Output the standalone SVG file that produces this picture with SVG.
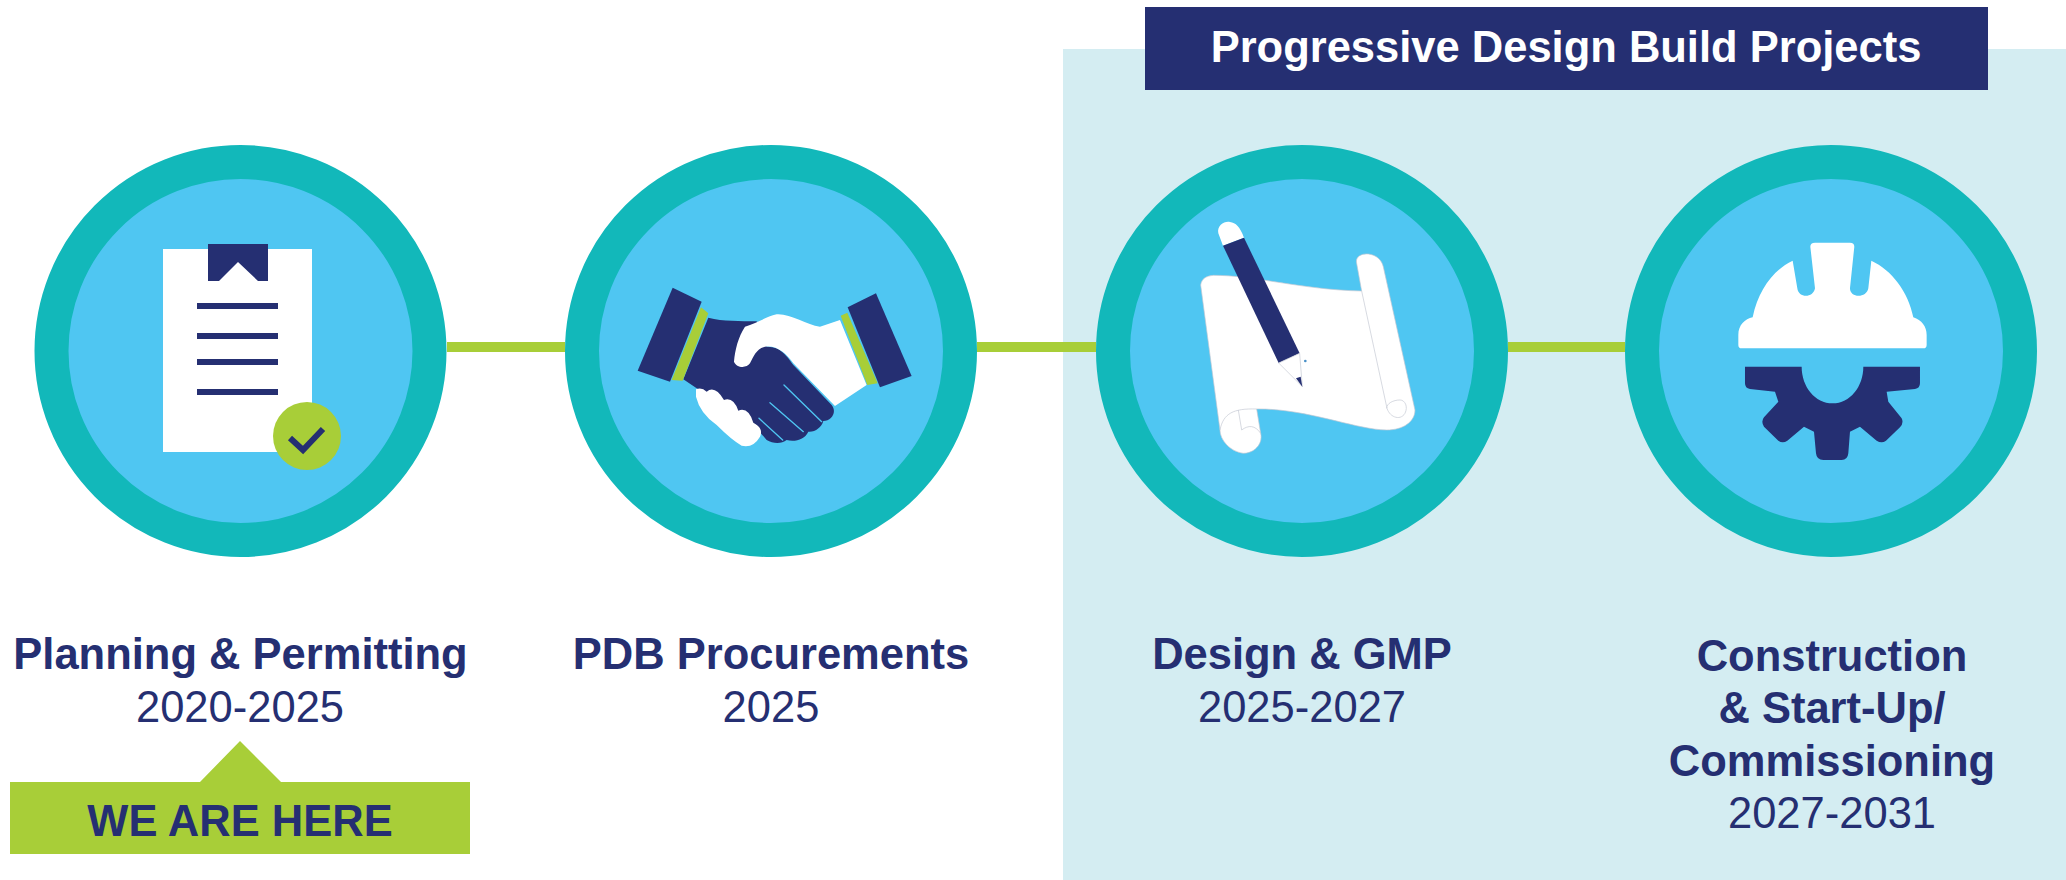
<svg xmlns="http://www.w3.org/2000/svg" width="2066" height="880" viewBox="0 0 2066 880">
<style>
.ring{fill:#4fc6f2;stroke:#12b8ba;stroke-width:34}
.n{fill:#252f72}.w{fill:#fff}.g{fill:#a8ce38}
.t{font-family:"Liberation Sans",Arial,sans-serif;fill:#252f72;text-anchor:middle;font-size:43.500px}
.b{font-weight:700}
.o{stroke:#c2c7d2;stroke-width:2}
.thin{fill:none;stroke:#c2c7d2;stroke-width:2}
.ln{fill:none;stroke:#252f72;stroke-width:6}
.f{fill:none;stroke:#4fc6f2;stroke-width:4;stroke-linecap:round}
</style>
<rect id="panel" x="1063" y="49" width="1003" height="831" fill="#d4edf2"/>
<g id="connectors" stroke="#a8ce38" stroke-width="10" fill="none">
<path d="M447 347H565"/><path d="M977 347H1096"/><path d="M1508 347H1625"/>
</g>
<g id="header"><rect x="1145" y="7" width="843" height="83" class="n"/>
<text x="1566" y="62" class="t b" style="fill:#fff">Progressive Design Build Projects</text></g>
<g id="node-planning">
<circle cx="240.500" cy="351" r="189" class="ring"/>
<rect x="163" y="249" width="149" height="203" class="w"/>
<path class="n" d="M208 244H268V281H258L238 262L219 281H208Z"/>
<path class="ln" d="M197 306H278M197 336H278M197 362H278M197 392H278"/>
<circle cx="307" cy="436" r="34" class="g"/>
<path d="M290 438L303 450L323 429" fill="none" stroke="#252f72" stroke-width="6"/>
<text x="240.500" y="669" class="t b">Planning &amp; Permitting</text>
<text x="240" y="722" class="t">2020-2025</text>
</g>
<g id="we-are-here">
<path class="g" d="M10 782H200L240 741L281 782H470V854H10Z"/>
<text x="240" y="836" class="t b">WE ARE HERE</text>
</g>
<g id="node-procurement">
<circle cx="771" cy="351" r="189" class="ring"/>
<g transform="translate(560 250) scale(.3333)">
<path class="n" d="M445 203C490 215 540 212 590 214L620 290C650 290 670 300 700 345L815 465C832 485 815 512 790 513C785 532 765 547 745 545C735 568 705 577 680 570C665 582 640 582 620 570L560 500L410 415L370 388Z"/>
<path class="w" d="M840 210L780 230C740 225 690 190 650 193C620 200 600 215 555 230C535 260 525 300 522 335C530 355 560 355 570 340C580 320 590 295 615 290C650 285 680 310 700 340L825 468L920 405Z"/>
<path class="w" d="M408 418Q425 410 440 425Q465 405 492 450Q520 440 535 482Q565 470 580 518Q612 535 600 560Q580 595 545 587Q515 570 470 525Q420 490 408 440Z"/>
<path class="n" d="M338 113L425 155L330 395L233 362Z"/>
<path class="g" d="M423 172L445 190L368 392L335 390Z"/>
<path class="g" d="M842 197L862 188L953 400L922 405Z"/>
<path class="n" d="M863 172L948 130L1055 378L960 412Z"/>
<path class="f" d="M672 405L785 515M630 458L730 545M597 505L668 570"/>
</g>
<text x="771" y="669" class="t b">PDB Procurements</text>
<text x="771" y="722" class="t">2025</text>
</g>
<g id="node-design">
<circle cx="1302" cy="351" r="189" class="ring"/>
<g transform="translate(1170 200) scale(.3333)">
<path class="w o" d="M92 255C95 235 110 228 130 226C250 225 400 270 575 273L560 190C555 170 575 160 595 162C620 165 635 180 640 200L735 630C735 665 700 690 650 690C560 690 410 625 260 627L272 700C280 735 250 760 220 760C180 755 150 720 150 690Z"/>
<path class="thin" d="M575 273L650 620C655 650 690 665 705 640C715 620 705 600 690 600C670 600 650 610 650 625M150 690C160 640 190 625 260 627M205 630L215 690C235 675 255 675 272 700"/>
<path class="w" d="M159 137L145 100C140 75 165 62 180 66C197 68 210 80 222 113Z"/>
<path class="n" d="M159 137L222 113L389 460L326 489Z"/>
<path class="w o" d="M326 489L389 460L397 560Z"/>
<path class="n" d="M378 535L392 530L397 560Z"/>
<circle cx="406" cy="483" r="4" fill="#4a90c8"/>
</g>
<text x="1302" y="669" class="t b">Design &amp; GMP</text>
<text x="1302" y="722" class="t">2025-2027</text>
</g>
<g id="node-construction">
<circle cx="1831" cy="351" r="189" class="ring"/>
<g transform="translate(1700 220) scale(.3333)">
<path class="w" d="M115 345C115 315 135 297 158 292C175 210 220 150 278 122L292 205C295 235 340 235 345 205L331 80Q331 68 345 68L450 68Q463 68 463 80L450 205C450 235 500 235 505 205L514 122C575 150 625 215 640 292C665 300 680 320 680 345L680 375Q680 385 670 385L125 385Q115 385 115 375Z"/>
<path class="n" d="M135 440L305 440C305 500 345 550 398 550C450 550 490 500 490 440L660 440L660 490Q660 505 645 507L560 515L565 545L605 595Q612 610 600 622L558 662Q545 672 530 662L480 620L450 635L445 700Q443 720 425 720L370 720Q350 720 348 700L342 635L312 620L262 662Q248 672 235 662L192 620Q182 605 192 592L235 545L225 515L150 507Q135 505 135 490Z"/>
</g>
<text x="1832" y="671" class="t b">Construction</text>
<text x="1832" y="723" class="t b">&amp; Start-Up/</text>
<text x="1832" y="776" class="t b">Commissioning</text>
<text x="1832" y="828" class="t">2027-2031</text>
</g>
</svg>
